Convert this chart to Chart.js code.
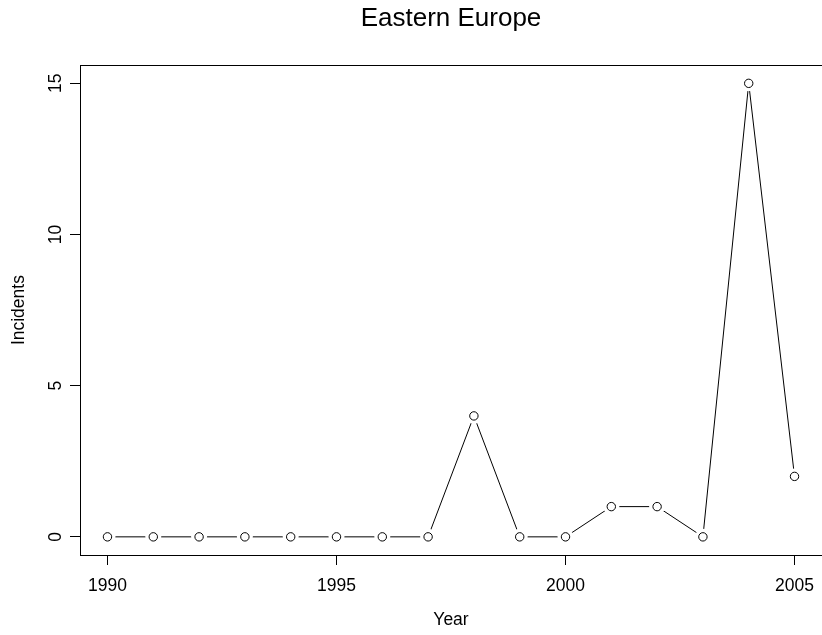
<!DOCTYPE html>
<html>
<head>
<meta charset="utf-8">
<script src="https://cdn.jsdelivr.net/npm/chart.js@4.4.0/dist/chart.umd.min.js"></script>
<style>
  html, body { margin: 0; padding: 0; background: #fff; overflow: hidden; }
  #wrap { width: 822px; height: 635px; overflow: hidden; }
  canvas { display: block; }
</style>
</head>
<body>
<div id="wrap"><canvas id="incidentsChart" width="830" height="635"></canvas></div>
<script>
const years = [1990, 1991, 1992, 1993, 1994, 1995, 1996, 1997, 1998, 1999, 2000, 2001, 2002, 2003, 2004, 2005];
const incidents = [0, 0, 0, 0, 0, 0, 0, 0, 4, 0, 0, 1, 1, 0, 15, 2];
const xTicks = [1990, 1995, 2000, 2005];
const yTicks = [0, 5, 10, 15];

const FONT = 'Liberation Sans, Arial, Helvetica, sans-serif';
const points = years.map((y, i) => ({ x: y, y: incidents[i] }));

// R style box around the plot region
const boxPlugin = {
    id: 'box',
    afterDraw(chart) {
        const a = chart.chartArea;
        const c = chart.ctx;
        c.save();
        c.strokeStyle = '#000';
        c.lineWidth = 1;
        c.strokeRect(Math.round(a.left) + 0.5, Math.round(a.top) + 0.5,
            Math.round(a.right - a.left), Math.round(a.bottom - a.top));
        c.restore();
    }
};

const axisStyle = {
    border: { display: false },
    grid: { drawOnChartArea: false, drawTicks: true, tickLength: 10, color: '#000', lineWidth: 1 },
};

new Chart(document.getElementById('incidentsChart').getContext('2d'), {
    type: 'line',
    data: {
        datasets: [
            {   // open circles
                data: points,
                showLine: false,
                pointRadius: 4.2,
                pointBorderWidth: 1,
                pointBorderColor: '#000',
                pointBackgroundColor: 'rgba(0,0,0,0)'
            },
            {   // white halo giving the gaps of type = "b"
                data: points,
                showLine: false,
                pointRadius: 8,
                pointBorderWidth: 0,
                pointBorderColor: '#fff',
                pointBackgroundColor: '#fff'
            },
            {
                data: points,
                borderColor: '#000',
                borderWidth: 1,
                pointRadius: 0,
                tension: 0,
                fill: false
            }
        ]
    },
    options: {
        responsive: false,
        animation: false,
        events: [],
        layout: { padding: { left: 0, right: 7, top: 0, bottom: 0 } },
        plugins: {
            legend: { display: false },
            tooltip: { enabled: false },
            title: {
                display: true,
                text: 'Eastern Europe',
                color: '#000',
                fullSize: false,
                font: { family: FONT, size: 26, weight: 'normal' },
                padding: { top: 3, bottom: 31 }
            }
        },
        scales: {
            x: {
                type: 'linear',
                min: 1989.4,
                max: 2005.6,
                ...axisStyle,
                afterBuildTicks: s => { s.ticks = xTicks.map(v => ({ value: v })); },
                afterFit: s => { s.height = 80; },
                ticks: {
                    color: '#000',
                    padding: 10.5,
                    maxRotation: 0,
                    font: { family: FONT, size: 17.5 },
                    callback: v => String(v)
                },
                title: {
                    display: true,
                    text: 'Year',
                    color: '#000',
                    font: { family: FONT, size: 17.5 },
                    padding: { top: 0, bottom: 4.5 }
                }
            },
            y: {
                type: 'linear',
                min: -0.6,
                max: 15.6,
                ...axisStyle,
                afterBuildTicks: s => { s.ticks = yTicks.map(v => ({ value: v })); },
                afterFit: s => { s.width = 80; },
                ticks: {
                    color: '#000',
                    padding: 4,
                    minRotation: 90,
                    maxRotation: 90,
                    crossAlign: 'center',
                    font: { family: FONT, size: 17.5 },
                    callback: v => String(v)
                },
                title: {
                    display: true,
                    text: 'Incidents',
                    color: '#000',
                    font: { family: FONT, size: 17.5 },
                    padding: { top: 8.5, bottom: 0 }
                }
            }
        }
    },
    plugins: [boxPlugin]
});
</script>
</body>
</html>
